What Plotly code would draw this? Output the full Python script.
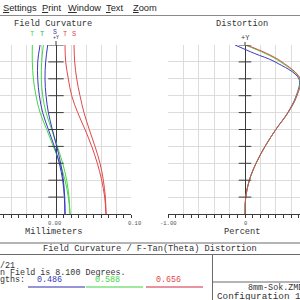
import plotly.graph_objects as go
import numpy as np

# ---------------- data ----------------
FIELD_MAX = 8.1
FIELD = [0, 0.81, 1.62, 2.43, 3.24, 4.05, 4.86, 5.67, 6.48, 7.29, 8.1]

# Field curvature (mm)
FC_BLUE_T = [0.0120, 0.0111, 0.0089, 0.0044, -0.0022, -0.0102, -0.0178, -0.0222, -0.0244, -0.0244, -0.0213]
FC_BLUE_S = [0.0120, 0.0116, 0.0098, 0.0062, 0.0009, -0.0049, -0.0102, -0.0133, -0.0147, -0.0138, -0.0111]
FC_GREEN_T = [0.0187, 0.0164, 0.0120, 0.0053, -0.0036, -0.0124, -0.0213, -0.0267, -0.0302, -0.0316, -0.0316]
FC_GREEN_S = [0.0187, 0.0173, 0.0142, 0.0089, 0.0018, -0.0058, -0.0133, -0.0178, -0.0196, -0.0191, -0.0169]
FC_RED_T = [0.0667, 0.0649, 0.0609, 0.0551, 0.0476, 0.0387, 0.0289, 0.0209, 0.0164, 0.0129, 0.0120]
FC_RED_S = [0.0667, 0.0658, 0.0631, 0.0587, 0.0520, 0.0444, 0.0373, 0.0320, 0.0276, 0.0249, 0.0240]

# Distortion (%)
DIST_FIELD = [0, 0.81, 1.62, 2.43, 3.24, 4.05, 4.86, 5.67, 6.48, 7.29, 7.70, 8.1]
DIST_BLUE = [0, 0.009, 0.056, 0.143, 0.26, 0.40, 0.555, 0.665, 0.70, 0.39, 0.12, -0.13]
DIST_GREEN = [0, 0.009, 0.056, 0.143, 0.26, 0.40, 0.56, 0.67, 0.71, 0.46, 0.26, 0.0]
DIST_RED = [0, 0.009, 0.056, 0.143, 0.26, 0.40, 0.56, 0.675, 0.715, 0.48, 0.28, 0.02]

WAVELENGTHS = ["0.486", "0.588", "0.656"]
FC_XLABELS = ["0.00", "0.10"]
DIST_XLABELS = ["-1.00", "0"]

BLUE = "#3838c0"
GREEN = "#44d844"
RED = "#e04848"
AX = "#3a3a3a"
GRID = "#dcdcdc"
MONO = "Liberation Mono"

W = 300
H = 300


def px(x):
    return x / W


def py(y):
    return 1 - y / H


fig = go.Figure()

# field curvature curves
for xs, c in [(FC_GREEN_T, GREEN), (FC_GREEN_S, GREEN), (FC_BLUE_T, BLUE), (FC_BLUE_S, BLUE),
              (FC_RED_T, RED), (FC_RED_S, RED)]:
    fig.add_trace(go.Scatter(x=xs, y=FIELD, mode="lines", line=dict(color=c, width=1, shape="spline"),
                             xaxis="x", yaxis="y", showlegend=False, hoverinfo="skip"))

# distortion curves
for xs, c in [(DIST_BLUE, BLUE), (DIST_GREEN, GREEN), (DIST_RED, RED)]:
    fig.add_trace(go.Scatter(x=xs, y=DIST_FIELD, mode="lines", line=dict(color=c, width=1, shape="spline"),
                             xaxis="x2", yaxis="y2", showlegend=False, hoverinfo="skip"))

ytv = list(np.linspace(0, FIELD_MAX, 11))
# ticks on central axes
fig.add_trace(go.Scatter(x=[0] * 10, y=ytv[1:], mode="markers",
                         marker=dict(symbol="line-ew", size=11, line=dict(color=AX, width=1)),
                         xaxis="x", yaxis="y", showlegend=False, hoverinfo="skip"))
fig.add_trace(go.Scatter(x=[0] * 10, y=ytv[1:], mode="markers",
                         marker=dict(symbol="line-ew", size=9, line=dict(color=AX, width=1)),
                         xaxis="x2", yaxis="y2", showlegend=False, hoverinfo="skip"))

ydom = [py(214), py(45)]
xcommon = dict(showgrid=True, gridcolor=GRID, gridwidth=1, zeroline=True, zerolinecolor=AX,
               zerolinewidth=1, showline=True, linecolor=AX, linewidth=1, ticks="outside",
               ticklen=3, tickcolor=AX, tickwidth=1, showticklabels=False, fixedrange=True)
ycommon = dict(range=[0, FIELD_MAX], showgrid=True, gridcolor=GRID, gridwidth=1, zeroline=False,
               showline=False, showticklabels=False, ticks="", tickmode="array", tickvals=ytv,
               fixedrange=True, domain=ydom)

fig.update_layout(
    width=W, height=H, margin=dict(l=0, r=0, t=0, b=0),
    paper_bgcolor="white", plot_bgcolor="white",
    xaxis=dict(domain=[0, px(131)], range=[-0.0747, 0.1], tick0=0, dtick=0.02,
               minor=dict(dtick=0.01, ticks="outside", ticklen=3, tickcolor=AX, showgrid=False),
               anchor="y", **xcommon),
    yaxis=dict(anchor="x", **ycommon),
    xaxis2=dict(domain=[px(168), 1], range=[-1.0, 0.714], tick0=0, dtick=0.2,
                minor=dict(dtick=0.1, ticks="outside", ticklen=3, tickcolor=AX, showgrid=False),
                anchor="y2", **xcommon),
    yaxis2=dict(anchor="x2", **ycommon),
)

anns = []


def ann(x, y, text, size=8.7, color="#333333", xanchor="center", family=MONO):
    anns.append(dict(x=px(x), y=py(y), xref="paper", yref="paper", text=text, showarrow=False,
                     xanchor=xanchor, yanchor="middle", borderpad=0,
                     font=dict(family=family, size=size, color=color)))


# menu bar
for word, x in [("Settings", 2), ("Print", 41), ("Window", 67), ("Text", 105), ("Zoom", 132)]:
    ann(x, 8, '<span style="text-decoration:underline">%s</span>%s' % (word[0], word[1:]),
        size=9.3, color="#1e1e1e", xanchor="left", family="Liberation Sans")

# plot titles
ann(53, 23.5, "Field Curvature")
ann(242, 23.5, "Distortion")
# legend-ish letters
ann(32, 33.5, "T", size=7, color=GREEN)
ann(42, 33.5, "T", size=7, color="#30b860")
ann(55, 32, "S", size=6.5, color=BLUE)
ann(56, 38, "+Y", size=5, color=AX)
ann(65, 33.5, "T", size=7, color=RED)
ann(74, 33.5, "S", size=7, color=RED)
ann(245, 37.5, "+Y", size=7, color=AX)

# axis labels
ann(55, 223, FC_XLABELS[0], size=5.5, color="#555555")
ann(134, 223, FC_XLABELS[1], size=5.5, color="#555555")
ann(168, 223, DIST_XLABELS[0], size=5.5, color="#555555")
ann(245, 223, DIST_XLABELS[1], size=5.5, color="#555555")
ann(53, 232, "Millimeters")
ann(242, 232, "Percent")

# lower panel
ann(150, 249, "Field Curvature / F-Tan(Theta) Distortion")
ann(-1, 266, "/21", size=8.4, xanchor="left")
ann(-1, 273, "n Field is 8.100 Degrees.", size=8.4, xanchor="left")
ann(-1, 279.5, "gths:", size=8.4, xanchor="left")
ann(49, 279.5, WAVELENGTHS[0], size=8.4, color=BLUE)
ann(107, 279.5, WAVELENGTHS[1], size=8.4, color=GREEN)
ann(168, 279.5, WAVELENGTHS[2], size=8.4, color=RED)
ann(247, 287.5, "8mm-Sok.ZMD", size=8.4, xanchor="left")
ann(216, 296, "Configuration 1 of 1", size=9.3, xanchor="left")

fig.update_layout(annotations=anns)

shapes = []


def hline(x0, x1, y, color="#6a6a6a", width=1):
    shapes.append(dict(type="line", xref="paper", yref="paper", x0=px(x0), x1=px(x1), y0=py(y), y1=py(y),
                       line=dict(color=color, width=width)))


def vline(x, y0, y1, color="#6a6a6a", width=1):
    shapes.append(dict(type="line", xref="paper", yref="paper", x0=px(x), x1=px(x), y0=py(y0), y1=py(y1),
                       line=dict(color=color, width=width)))


hline(0, 300, 15.5, color="#8a8a8a")
hline(0, 300, 243)
hline(0, 300, 254.5)
vline(212.5, 254.5, 300)
hline(212.5, 300, 282)
hline(28, 85, 287, color="#7070c8", width=1.5)
hline(86, 143, 287, color="#80e080", width=1.5)
hline(146, 203, 287, color="#e07080", width=1.5)
# axis stubs above plot tops
shapes.append(dict(type="line", xref="x", yref="paper", x0=0, x1=0, y0=py(45), y1=py(41),
                   line=dict(color=AX, width=1)))
shapes.append(dict(type="line", xref="x2", yref="paper", x0=0, x1=0, y0=py(45), y1=py(42),
                   line=dict(color=AX, width=1)))
fig.update_layout(shapes=shapes)

fig.write_html("out.html")
